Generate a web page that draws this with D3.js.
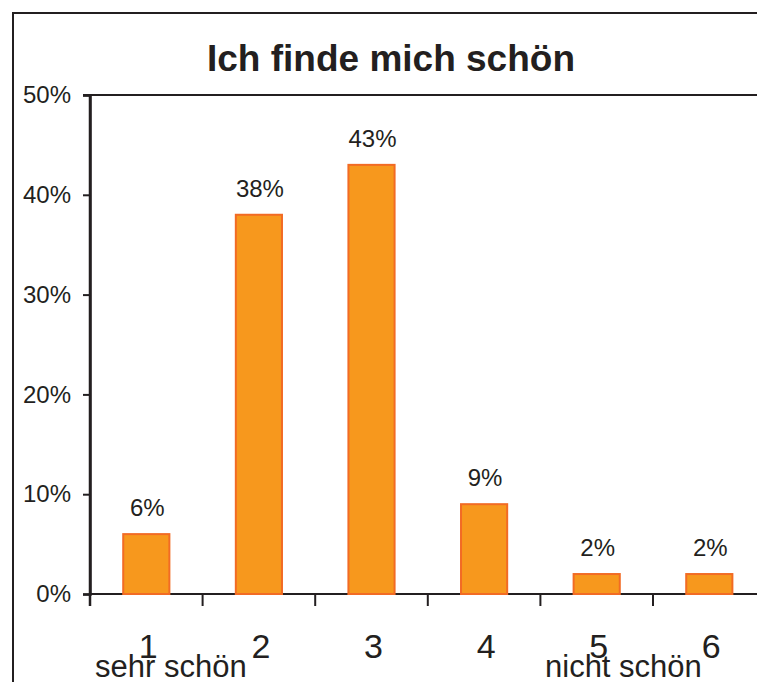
<!DOCTYPE html>
<html>
<head>
<meta charset="utf-8">
<script src="https://cdn.jsdelivr.net/npm/d3@7"></script>
<style>
  body { margin: 0; background: #fff; }
  text { font-family: "Liberation Sans", Arial, sans-serif; fill: #231f20; }
</style>
</head>
<body>
<svg id="barChart" width="757" height="682"></svg>
<script>
var categories = ["1", "2", "3", "4", "5", "6"];
var values = [6, 38, 43, 9, 2, 2];
var yTicks = [0, 10, 20, 30, 40, 50];
var endLabels = ["sehr schön", "nicht schön"];

(function barChart() {
    var svg = d3.select("#barChart");
    var ink = "#231f20";

    // outer frame (open on right and bottom like the original)
    svg.append("path")
        .attr("d", "M13,682 L13,13 L757,13")
        .attr("fill", "none")
        .attr("stroke", ink)
        .attr("stroke-width", 2);

    svg.append("text")
        .attr("x", 391)
        .attr("y", 71)
        .attr("text-anchor", "middle")
        .style("font-weight", "bold")
        .style("font-size", "37px")
        .text("Ich finde mich schön");

    var x = d3.scaleBand()
        .domain(categories)
        .range([90, 90 + 6 * 112.6])
        .paddingInner(0.59)
        .paddingOuter(0.295);

    var y = d3.scaleLinear().domain([0, 50]).range([594, 95]);

    // plot top line
    svg.append("line")
        .attr("x1", 83).attr("x2", 757)
        .attr("y1", y(50)).attr("y2", y(50))
        .attr("stroke", ink).attr("stroke-width", 2);

    var yAxis = svg.append("g")
        .attr("transform", "translate(90,0)")
        .call(d3.axisLeft(y).tickValues(yTicks).tickSize(7).tickPadding(12)
            .tickFormat(function (d) { return d + "%"; }));
    yAxis.select(".domain").attr("stroke", ink).attr("stroke-width", 2.5);
    yAxis.selectAll(".tick line").attr("stroke", ink).attr("stroke-width", 2);
    yAxis.selectAll("text").style("font-size", "24px").attr("fill", ink)
        .attr("font-family", null);

    // x axis line and ticks at band boundaries
    svg.append("line")
        .attr("x1", 90).attr("x2", 757)
        .attr("y1", y(0)).attr("y2", y(0))
        .attr("stroke", ink).attr("stroke-width", 2);
    svg.append("line")
        .attr("x1", 90).attr("x2", 90)
        .attr("y1", y(50)).attr("y2", 606)
        .attr("stroke", ink).attr("stroke-width", 2.5);

    svg.selectAll(".xtick")
        .data(categories.slice(1))
        .enter().append("line")
        .attr("class", "xtick")
        .attr("x1", function (d) { return x(d) - x.step() * x.paddingInner() / 2; })
        .attr("x2", function (d) { return x(d) - x.step() * x.paddingInner() / 2; })
        .attr("y1", y(0)).attr("y2", 606)
        .attr("stroke", ink).attr("stroke-width", 2);

    var bar = svg.selectAll(".bar")
        .data(categories)
        .enter().append("g")
        .attr("class", "bar");

    bar.append("rect")
        .attr("x", function (d) { return x(d); })
        .attr("y", function (d, i) { return y(values[i]); })
        .attr("width", x.bandwidth())
        .attr("height", function (d, i) { return y(0) - y(values[i]); })
        .attr("fill", "#f7981d")
        .attr("stroke", "#f26b24")
        .attr("stroke-width", 2);

    bar.append("text")
        .attr("x", function (d) { return x(d) + x.bandwidth() / 2 + 1; })
        .attr("y", function (d, i) { return y(values[i]) - 18; })
        .attr("text-anchor", "middle")
        .style("font-size", "24px")
        .text(function (d, i) { return values[i] + "%"; });

    bar.append("text")
        .attr("x", function (d) { return x(d) + x.bandwidth() / 2 + 2; })
        .attr("y", 658)
        .attr("text-anchor", "middle")
        .style("font-size", "34px")
        .text(function (d) { return d; });

    svg.append("text")
        .attr("x", 95).attr("y", 677)
        .style("font-size", "31px")
        .text(endLabels[0]);

    svg.append("text")
        .attr("x", 545).attr("y", 677)
        .style("font-size", "31px")
        .text(endLabels[1]);
}());
</script>
</body>
</html>
